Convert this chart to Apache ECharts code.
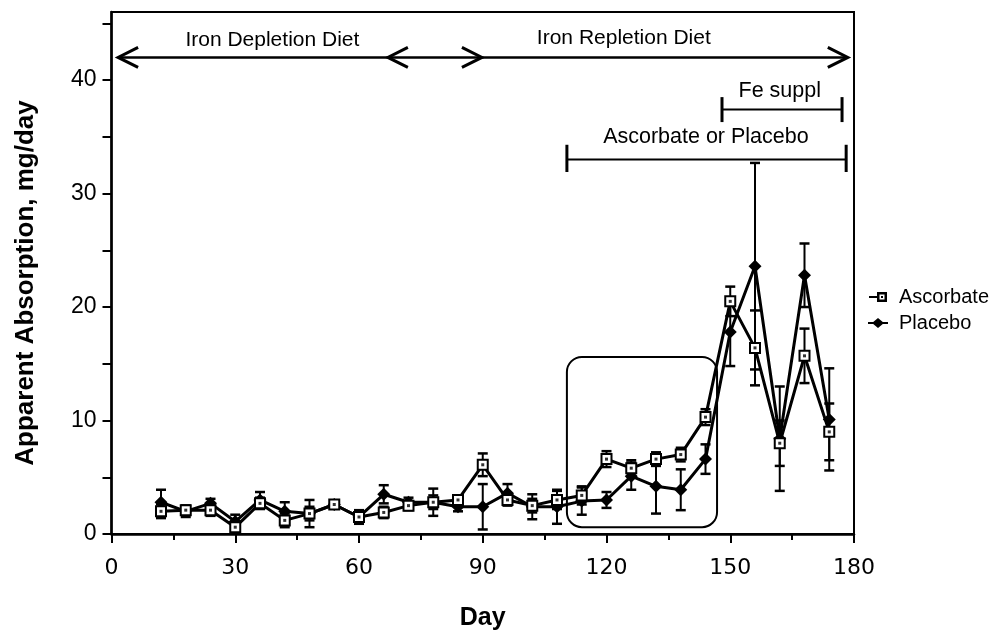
<!DOCTYPE html>
<html><head><meta charset="utf-8">
<script src="https://cdn.jsdelivr.net/npm/echarts@6/dist/echarts.min.js"></script>
<style>html,body{margin:0;padding:0;background:#fff}#c{width:990px;height:636px}</style>
</head><body><div id="c"></div>
<script>
// ---- data ----
const days = [12,18,24,30,36,42,48,54,60,66,72,78,84,90,96,102,108,114,120,126,132,138,144,150,156,162,168,174];
const ascorbate    = [2.0,2.1,2.1,0.6,2.7,1.2,1.8,2.6,1.5,1.9,2.5,2.8,3.0,6.1,3.0,2.5,3.0,3.4,6.6,5.8,6.6,7.0,10.3,20.5,16.4,8.0,15.7,9.0];
const ascorbateErr = [0.6,0.4,0.5,0.5,0.5,0.6,0.6,0.3,0.4,0.5,0.4,0.6,0.4,1.0,0.5,0.6,0.8,0.8,0.7,0.7,0.6,0.6,0.7,1.3,3.3,2.0,2.4,2.5];
const placebo      = [2.8,2.0,2.7,1.1,3.0,2.0,1.8,2.6,1.5,3.5,2.8,2.8,2.4,2.4,3.6,2.4,2.4,2.9,3.0,5.1,4.2,3.9,6.6,17.8,23.6,8.4,22.8,10.1];
const placeboErr   = [1.1,0.5,0.4,0.6,0.7,0.8,1.2,0.3,0.6,0.8,0.4,1.2,0.4,2.0,0.8,1.1,1.5,1.2,0.7,1.2,2.4,1.8,1.3,3.0,9.1,4.6,2.8,4.5];
const xTickLabels = [0,30,60,90,120,150,180];
const yTickLabels = [0,10,20,30,40];
const yTickMarks  = [0,5,10,15,20,25,30,35,40,45];

// ---- annotation anchors (day, mg/day) ----
const phaseArrowY = 42.0;
const phaseArrowSpan = [1.6, 178.5];
const phaseChevrons = [[1.6,'left'],[67,'left'],[89.8,'right'],[178.5,'right']];
const phaseLabels = [['Iron Depletion Diet', 39.0, 43.5], ['Iron Repletion Diet', 124.2, 43.7]];
const bracketLabels = ['Fe suppl', 'Ascorbate or Placebo'];
const bracketSpans  = [[148.0, 177.1], [110.4, 178.1]];
const bracketLineY  = [37.4, 33.0];
const bracketTickY  = [[36.3, 38.5], [31.9, 34.3]];
const bracketLabelPos = [[162.0, 39.0], [144.1, 35.0]];
const highlightBox = [[110.4, 15.6], [146.8, 0.6]];

const FONT = '"Liberation Sans", Arial, Helvetica, sans-serif';

function errRender(params, api) {
  const x = api.value(0), y = api.value(1), e = api.value(2);
  const hi = api.coord([x, y + e]), lo = api.coord([x, y - e]);
  const hw = 5;
  return {type:'group', children:[
    {type:'line', shape:{x1:hi[0],y1:hi[1],x2:lo[0],y2:lo[1]}, style:{stroke:'#000',lineWidth:2}},
    {type:'line', shape:{x1:hi[0]-hw,y1:hi[1],x2:hi[0]+hw,y2:hi[1]}, style:{stroke:'#000',lineWidth:2.5}},
    {type:'line', shape:{x1:lo[0]-hw,y1:lo[1],x2:lo[0]+hw,y2:lo[1]}, style:{stroke:'#000',lineWidth:2.5}}
  ]};
}

function annRender(params, api) {
  const ch = [];
  const line = (a, b, w) => ({type:'line', shape:{x1:a[0],y1:a[1],x2:b[0],y2:b[1]}, style:{stroke:'#000', lineWidth:w}});
  const text = (t, p, size) => ({type:'text', x:p[0], y:p[1], style:{text:t, fill:'#000', font: size + 'px ' + FONT, align:'center', verticalAlign:'middle'}});
  ch.push(line(api.coord([phaseArrowSpan[0], phaseArrowY]), api.coord([phaseArrowSpan[1], phaseArrowY]), 2.5));
  phaseChevrons.forEach(([d, dir]) => {
    const p = api.coord([d, phaseArrowY]);
    const s = dir === 'left' ? 1 : -1;
    ch.push({type:'polyline', shape:{points:[[p[0]+s*20,p[1]-10],[p[0],p[1]],[p[0]+s*20,p[1]+10]]}, style:{stroke:'#000', lineWidth:3, fill:null}});
  });
  phaseLabels.forEach(([t, d, v]) => ch.push(text(t, api.coord([d, v]), 21)));
  bracketLabels.forEach((t, i) => {
    const [a, b] = bracketSpans[i];
    ch.push(line(api.coord([a, bracketLineY[i]]), api.coord([b, bracketLineY[i]]), 2));
    [a, b].forEach(d => ch.push(line(api.coord([d, bracketTickY[i][0]]), api.coord([d, bracketTickY[i][1]]), 3)));
    ch.push(text(t, api.coord(bracketLabelPos[i]), 21.5));
  });
  const p1 = api.coord(highlightBox[0]), p2 = api.coord(highlightBox[1]);
  ch.push({type:'rect', shape:{x:p1[0], y:p1[1], width:p2[0]-p1[0], height:p2[1]-p1[1], r:15}, style:{fill:null, stroke:'#000', lineWidth:2}});
  return {type:'group', children:ch};
}

const chart = echarts.init(document.getElementById('c'), null, {renderer:'canvas'});
chart.setOption({
  animation:false,
  backgroundColor:'#fff',
  grid:{left:111.5, right:136, top:12, bottom:96, show:true, borderColor:'#000', borderWidth:2, backgroundColor:'transparent'},
  legend:{
    orient:'vertical', left:863, top:282, itemWidth:20, itemHeight:10, itemGap:6,
    textStyle:{fontSize:20, fontFamily:FONT, color:'#000', padding:[0,0,0,6]},
    itemStyle:{color:'#000', borderWidth:0},
    data:[
      {name:'Ascorbate', icon:'path://M0,4H8V6H0Z M8,0H18V10H8Z M10.5,2.5V7.5H15.5V2.5Z M12,4H14V6H12Z'},
      {name:'Placebo', icon:'path://M0,4H20V6H0Z M10,0L16,5L10,10L4,5Z'}
    ]
  },
  xAxis:{
    type:'value', min:0, max:180, interval:30,
    name:'Day', nameLocation:'middle', nameGap:72,
    nameTextStyle:{fontSize:25, fontWeight:'bold', fontFamily:FONT, color:'#000'},
    axisLine:{lineStyle:{color:'#000', width:2.5}},
    axisTick:{length:9, lineStyle:{color:'#000', width:2}},
    minorTick:{show:true, splitNumber:2, length:6, lineStyle:{color:'#000', width:2}},
    axisLabel:{margin:23, fontSize:22, fontFamily:'"DejaVu Sans", sans-serif', color:'#000',
      formatter: v => xTickLabels.indexOf(v) >= 0 ? String(v) : ''},
    splitLine:{show:false}
  },
  yAxis:{
    type:'value', min:0, max:46, interval:10,
    name:'Apparent Absorption, mg/day', nameLocation:'middle', nameGap:73,
    nameTextStyle:{fontSize:26, fontWeight:'bold', fontFamily:FONT, color:'#000', padding:[0,20,0,0]},
    axisLine:{lineStyle:{color:'#000', width:2.5}},
    axisTick:{length:9, lineStyle:{color:'#000', width:2}, customValues:yTickMarks},
    axisLabel:{margin:15, fontSize:23, fontFamily:FONT, color:'#000', customValues:yTickLabels,
      formatter: v => yTickLabels.indexOf(v) >= 0 ? String(v) : ''},
    splitLine:{show:false}
  },
  series:[
    {type:'custom', name:'annotations', renderItem:annRender, data:[[0,0]], silent:true, z:1, clip:false},
    {type:'custom', name:'ascErr', renderItem:errRender, data:days.map((d,i)=>[d, ascorbate[i], ascorbateErr[i]]), encode:{x:0,y:1}, z:2, silent:true},
    {type:'custom', name:'plaErr', renderItem:errRender, data:days.map((d,i)=>[d, placebo[i], placeboErr[i]]), encode:{x:0,y:1}, z:2, silent:true},
    {type:'line', name:'Placebo', data:days.map((d,i)=>[d, placebo[i]]), symbol:'diamond', symbolSize:[13,13],
      lineStyle:{color:'#000', width:3}, itemStyle:{color:'#000'}, z:3},
    {type:'line', name:'Ascorbate', data:days.map((d,i)=>[d, ascorbate[i]]), symbol:'rect', symbolSize:10,
      lineStyle:{color:'#000', width:3}, itemStyle:{color:'#fff', borderColor:'#000', borderWidth:2}, z:4},
    {type:'scatter', name:'ascDot', data:days.map((d,i)=>[d, ascorbate[i]]), symbol:'rect', symbolSize:3,
      itemStyle:{color:'#000'}, z:5, silent:true}
  ]
});
</script></body></html>
